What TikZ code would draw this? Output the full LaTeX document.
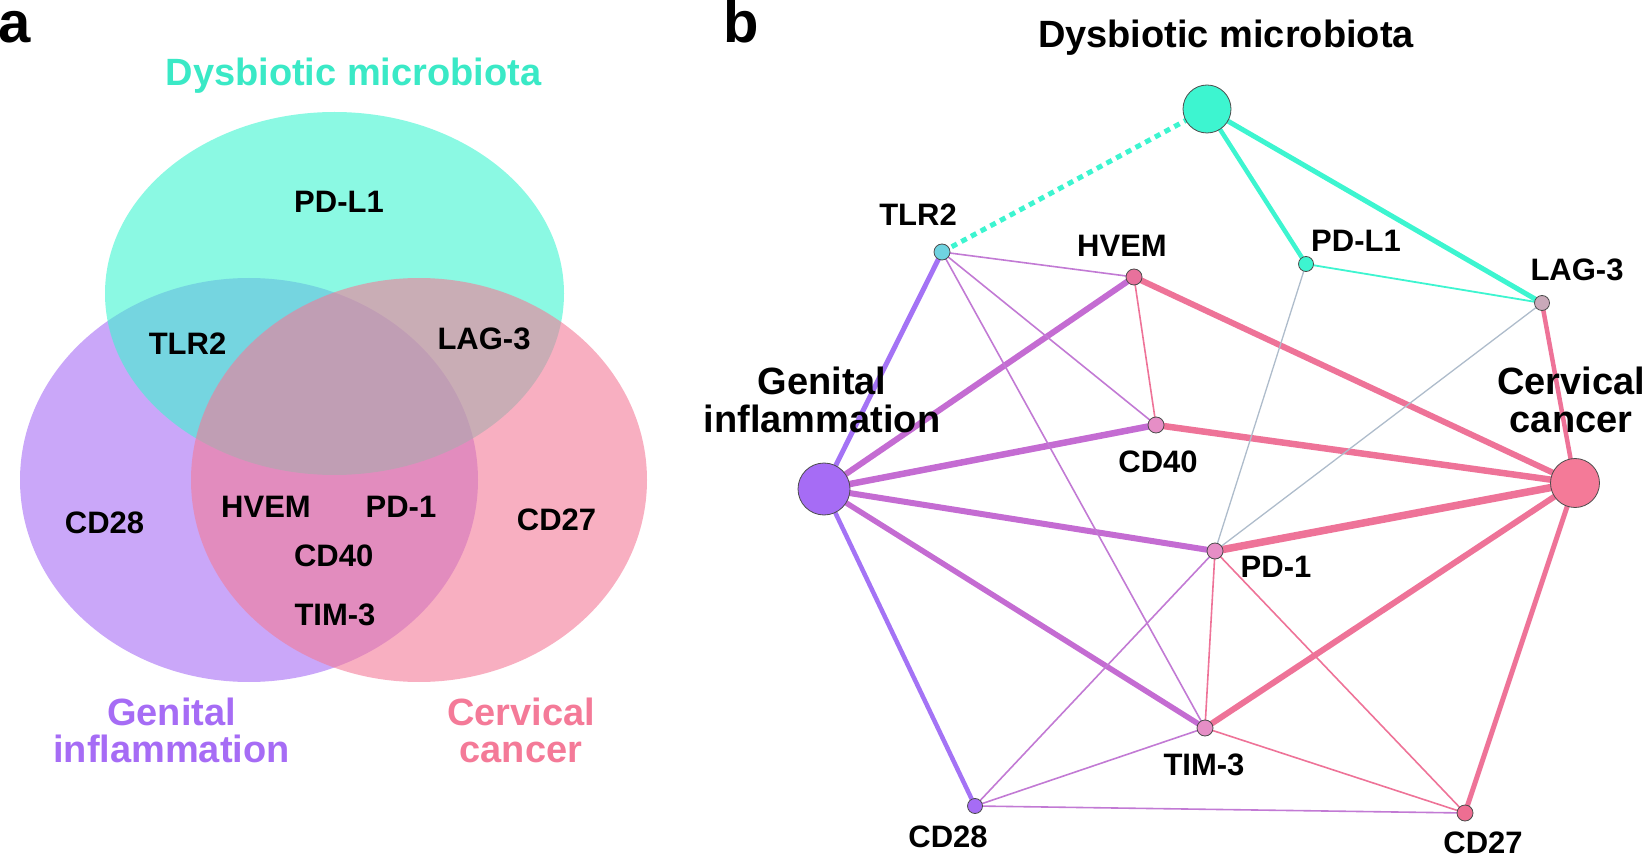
\documentclass[tikz,border=0pt]{standalone}
\usepackage{fontspec}
\setmainfont{Liberation Sans}
\usetikzlibrary{backgrounds}
\definecolor{teal0}{HTML}{3DF5D0}
\definecolor{purp0}{HTML}{A66CF5}
\definecolor{pink0}{HTML}{F47A98}
\definecolor{tlrc}{HTML}{6FD3E0}
\definecolor{hvemc}{HTML}{E8719C}
\definecolor{lagc}{HTML}{C9A9B9}
\definecolor{cdfc}{HTML}{E68EC6}
\definecolor{cdsc}{HTML}{EE6E92}
\definecolor{orch}{HTML}{C46CD2}
\definecolor{thinm}{HTML}{C27AD4}
\definecolor{pinkE}{HTML}{EE7398}
\definecolor{grayE}{HTML}{AEBCCB}
\definecolor{purE}{HTML}{A473F5}
\newcommand\lblfont{\fontsize{31}{37}\selectfont\bfseries}
\newcommand\bigfont{\fontsize{38}{37}\selectfont\bfseries}
\newcommand\panelfont{\fontsize{58}{60}\selectfont\bfseries}
\begin{document}
\begin{tikzpicture}[x=1pt,y=-1pt,
  lbl/.style={font=\lblfont, inner sep=0pt, anchor=base},
  big/.style={font=\bigfont, inner sep=0pt, anchor=base, align=center},
  dot/.style={circle, draw=black!70, line width=0.8pt, inner sep=0pt, minimum size=#1},
  venn/.style={fill opacity=0.6},
  thick edge/.style={line width=#1},
  thin edge/.style={line width=1.6pt}]
\useasboundingbox (0,0) rectangle (1647,858);

% ---------- panel a ----------
\node[font=\panelfont, inner sep=0pt, anchor=base west] (pa) at (-2,43) {a};
\fill[purp0, venn] (249,480) ellipse [x radius=229, y radius=202];
\fill[teal0, venn] (334.5,293.5) ellipse [x radius=229.5, y radius=181.5];
\fill[pink0, venn] (419,480) ellipse [x radius=228, y radius=202];
\node[big, text=teal0!95!black] (aDM) at (353.5,86) {Dysbiotic microbiota};
\node[big, text=purp0] (aGI) at (171.5,762) {Genital\\inflammation};
\node[big, text=pink0] (aCC) at (521,762) {Cervical\\cancer};
\node[lbl] (aPDL) at (339,213) {PD-L1};
\node[lbl] (aTLR) at (187.5,355) {TLR2};
\node[lbl] (aLAG) at (484,350) {LAG-3};
\node[lbl] (aCDa) at (104.5,533) {CD28};
\node[lbl] (aHV) at (266,517) {HVEM};
\node[lbl] (aPD) at (401,517) {PD-1};
\node[lbl] (aCDb) at (556.5,530) {CD27};
\node[lbl] (aCDc) at (333.7,566) {CD40};
\node[lbl] (aTIM) at (335,625) {TIM-3};

% ---------- panel b ----------
\node[font=\panelfont, inner sep=0pt, anchor=base west] (pb) at (723,43) {b};
\node[big] (bT) at (1226,48) {Dysbiotic microbiota};

\node[dot=48pt, fill=teal0] (DM) at (1207,109) {};
\node[dot=16pt, fill=tlrc] (TLR) at (942,252) {};
\node[dot=16pt, fill=hvemc] (HV) at (1134,277) {};
\node[dot=15pt, fill=teal0] (PDL) at (1306,264) {};
\node[dot=15pt, fill=lagc] (LAG) at (1542,303) {};
\node[dot=16pt, fill=cdfc] (CDF) at (1156,425) {};
\node[dot=52pt, fill=purp0] (GI) at (824,489) {};
\node[dot=49pt, fill=pink0] (CC) at (1575,483) {};
\node[dot=16pt, fill=cdfc] (PD) at (1215,551) {};
\node[dot=16pt, fill=cdfc] (TIM) at (1205,728) {};
\node[dot=15pt, fill=purp0] (CDE) at (975,806) {};
\node[dot=16pt, fill=cdsc] (CDS) at (1465,813) {};

\begin{scope}[on background layer]
\draw[purE, thick edge=5pt] (GI.center) -- (TLR.center);
\draw[purE, thick edge=4.5pt] (GI.center) -- (CDE.center);
\draw[orch, thick edge=6pt] (GI.center) -- (HV.center);
\draw[orch, thick edge=6.5pt] (GI.center) -- (CDF.center);
\draw[orch, thick edge=6pt] (GI.center) -- (PD.center);
\draw[orch, thick edge=5.5pt] (GI.center) -- (TIM.center);
\draw[thinm, thin edge] (TLR.center) -- (HV.center);
\draw[thinm, thin edge] (TLR.center) -- (CDF.center);
\draw[thinm, thin edge] (TLR.center) -- (TIM.center);
\draw[thinm, thin edge] (CDE.center) -- (PD.center);
\draw[thinm, thin edge] (CDE.center) -- (TIM.center);
\draw[thinm, thin edge] (CDE.center) -- (CDS.center);
\draw[pinkE, thick edge=6pt] (CC.center) -- (HV.center);
\draw[pinkE, thick edge=6.5pt] (CC.center) -- (CDF.center);
\draw[pinkE, thick edge=7.5pt] (CC.center) -- (PD.center);
\draw[pinkE, thick edge=6pt] (CC.center) -- (TIM.center);
\draw[pinkE, thick edge=5pt] (CC.center) -- (CDS.center);
\draw[pinkE, thick edge=4.5pt] (CC.center) -- (LAG.center);
\draw[pinkE, thin edge] (HV.center) -- (CDF.center);
\draw[pinkE, thin edge] (PD.center) -- (TIM.center);
\draw[pinkE, thin edge] (PD.center) -- (CDS.center);
\draw[pinkE, thin edge] (TIM.center) -- (CDS.center);
\draw[teal0, thick edge=4.5pt] (DM.center) -- (PDL.center);
\draw[teal0, thick edge=5pt] (DM.center) -- (LAG.center);
\draw[teal0, line width=1.8pt] (PDL.center) -- (LAG.center);
\draw[teal0, line width=5pt, dash pattern=on 6pt off 5pt] (TLR.center) -- (DM.center);
\draw[grayE, line width=1.3pt] (PDL.center) -- (PD.center);
\draw[grayE, line width=1.3pt] (LAG.center) -- (PD.center);
\end{scope}

\node[lbl] (lTLR) at (918,226) {TLR2};
\node[lbl] (lHV) at (1122,257) {HVEM};
\node[lbl] (lPDL) at (1356,252) {PD-L1};
\node[lbl] (lLAG) at (1577,281) {LAG-3};
\node[lbl] (lCDF) at (1158,472) {CD40};
\node[lbl] (lPD) at (1276,577) {PD-1};
\node[lbl] (lTIM) at (1204,775) {TIM-3};
\node[lbl] (lCDE) at (948,847) {CD28};
\node[lbl] (lCDS) at (1483,853) {CD27};
\node[big] (lGI) at (822,432) {Genital\\inflammation};
\node[big] (lCC) at (1571,432) {Cervical\\cancer};
\end{tikzpicture}
\end{document}
